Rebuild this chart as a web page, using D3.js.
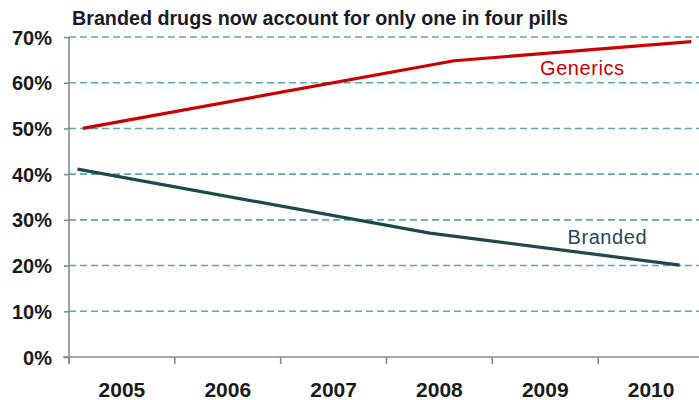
<!DOCTYPE html>
<html>
<head>
<meta charset="utf-8">
<script src="https://cdn.jsdelivr.net/npm/d3@7"></script>
<style>
  html, body { margin: 0; padding: 0; background: #fff; }
  svg { display: block; font-family: "Liberation Sans", Arial, sans-serif; }
</style>
</head>
<body>
<svg id="chart" width="699" height="400"></svg>
<script>
// Share of prescriptions filled, generic vs branded
const years = [2005, 2006, 2007, 2008, 2009, 2010];
const yTicks = [0, 10, 20, 30, 40, 50, 60, 70];

// Each series is a polyline through (year, share %) readings
const genericsYears = [2004.63, 2008.14, 2010.38];
const genericsShare = [50.0, 64.8, 69.0];
const brandedYears = [2004.58, 2007.91, 2010.27];
const brandedShare = [41.1, 27.1, 20.1];

const titleText = "Branded drugs now account for only one in four pills";

(function draw() {
  const svg = d3.select("#chart");
  const W = 699;
  const mLeft = 69, mRight = 704, mTop = 37, mBottom = 357;

  const xBand = d3.scaleBand().domain(years).range([mLeft, mRight]).padding(0);
  const xLin = d3.scaleLinear().domain([2004.5, 2010.5]).range([mLeft, mRight]);
  const y = d3.scaleLinear().domain([0, 70]).range([mBottom, mTop]);

  // dashed horizontal gridlines
  svg.append("g")
    .selectAll("line")
    .data(yTicks.filter(d => d > 0))
    .join("line")
    .attr("x1", mLeft).attr("x2", W)
    .attr("y1", d => y(d)).attr("y2", d => y(d))
    .attr("stroke", "#5aaab0")
    .attr("stroke-width", 1.6)
    .attr("stroke-dasharray", "7,4");

  // y axis
  const yAxis = d3.axisLeft(y).tickValues(yTicks).tickSize(5).tickFormat(d => d + "%");
  const gy = svg.append("g").attr("transform", `translate(${mLeft},0)`).call(yAxis);
  gy.select(".domain").attr("stroke", "#8a8a8a").attr("stroke-width", 1.6)
    .attr("d", `M0,${mTop}V${mBottom + 6}`);
  gy.selectAll(".tick line").attr("stroke", "#8a8a8a").attr("stroke-width", 1.6);
  gy.selectAll(".tick text")
    .attr("x", -17).attr("dy", "0.35em")
    .attr("fill", "#1a1a1a")
    .style("font-size", "20px").style("font-weight", "bold")
    .style("font-family", "'Liberation Sans', Arial, sans-serif");

  // x axis: ticks on band boundaries, labels centred in each band
  const gx = svg.append("g").attr("transform", `translate(0,${mBottom})`);
  gx.append("line").attr("x1", mLeft - 6).attr("x2", W).attr("y1", 0).attr("y2", 0)
    .attr("stroke", "#8a8a8a").attr("stroke-width", 1.6);
  gx.selectAll("line.tk")
    .data(years)
    .join("line").attr("class", "tk")
    .attr("x1", d => xBand(d)).attr("x2", d => xBand(d))
    .attr("y1", 0).attr("y2", 7)
    .attr("stroke", "#8a8a8a").attr("stroke-width", 1.6);
  gx.selectAll("text")
    .data(years)
    .join("text")
    .attr("x", d => xBand(d) + xBand.bandwidth() / 2)
    .attr("y", 40)
    .attr("text-anchor", "middle")
    .attr("fill", "#1a1a1a")
    .style("font-size", "21px").style("font-weight", "bold")
    .text(d => d);

  // series lines
  const line = d3.line().x(d => xLin(d[0])).y(d => y(d[1]));
  const genericsPts = genericsYears.map((d, i) => [d, genericsShare[i]]);
  const brandedPts = brandedYears.map((d, i) => [d, brandedShare[i]]);

  svg.append("path").datum(genericsPts)
    .attr("d", line).attr("fill", "none")
    .attr("stroke", "#cc0000").attr("stroke-width", 3.2);
  svg.append("path").datum(brandedPts)
    .attr("d", line).attr("fill", "none")
    .attr("stroke", "#1f4a4c").attr("stroke-width", 3.2);

  // series labels
  svg.append("text")
    .attr("x", 582).attr("y", 75)
    .attr("text-anchor", "middle")
    .attr("fill", "#cc0000")
    .style("font-size", "20px")
    .attr("textLength", 84).attr("lengthAdjust", "spacing")
    .text("Generics");
  svg.append("text")
    .attr("x", 607).attr("y", 244)
    .attr("text-anchor", "middle")
    .attr("fill", "#23495a")
    .style("font-size", "20px")
    .attr("textLength", 79).attr("lengthAdjust", "spacing")
    .text("Branded");

  // title
  svg.append("text")
    .attr("x", 72).attr("y", 25)
    .attr("fill", "#1a1a2a")
    .style("font-size", "20px").style("font-weight", "bold")
    .attr("textLength", 496).attr("lengthAdjust", "spacingAndGlyphs")
    .text(titleText);
})();
</script>
</body>
</html>
